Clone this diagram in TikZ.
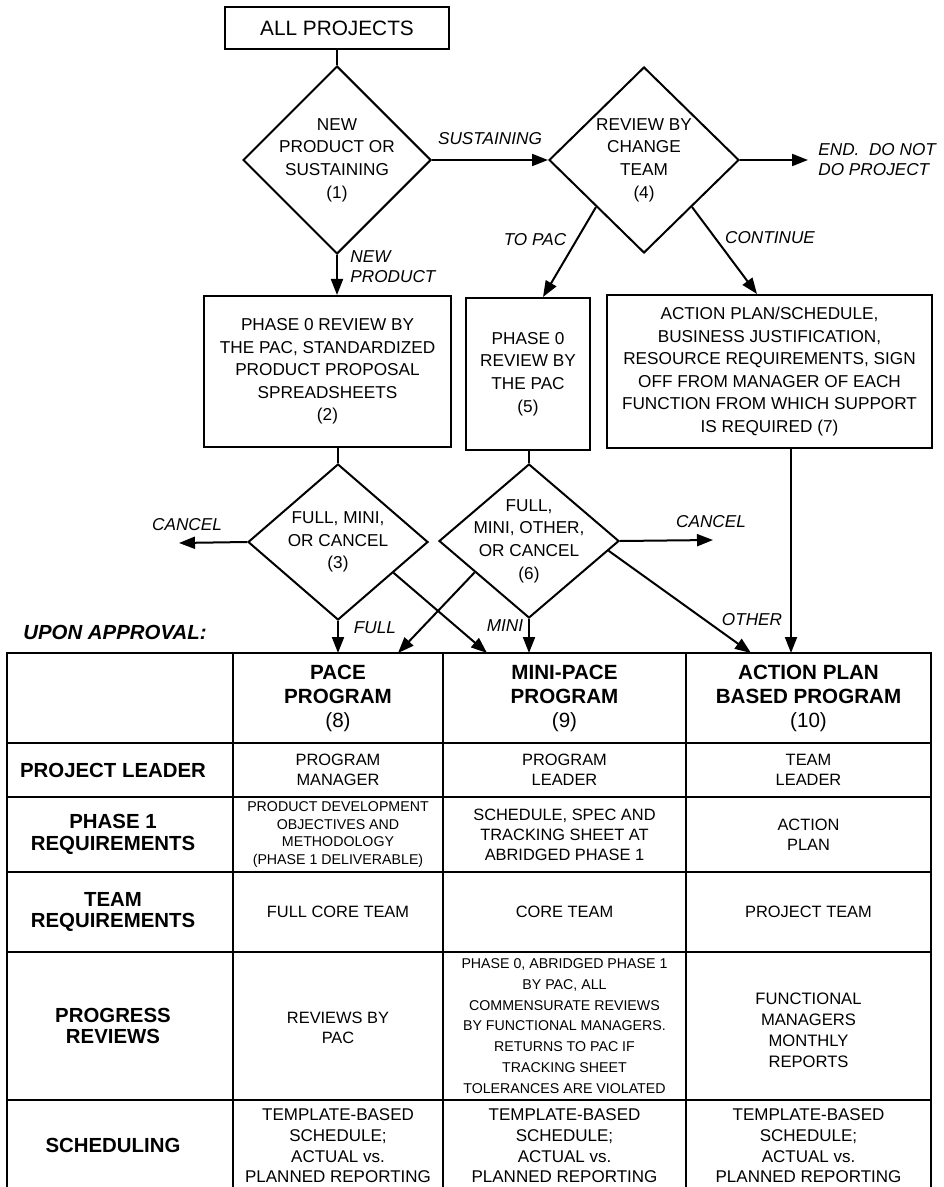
\documentclass[tikz,border=0pt]{standalone}
\usepackage{fontspec}
\setmainfont{Liberation Sans}
\usetikzlibrary{shapes.geometric,arrows.meta}

\tikzset{
  box/.style={draw, rectangle, line width=1pt, align=center, inner sep=0pt, font=\fontsize{8.6}{11.3}\selectfont},
  decision/.style={draw, diamond, line width=1pt, align=center, inner sep=-6pt, font=\fontsize{8.6}{11.3}\selectfont},
  lbl/.style={inner sep=0pt, align=left, font=\fontsize{8.6}{10}\selectfont\itshape},
  arr/.style={line width=1pt, -{Triangle[length=8pt,width=6pt]}},
  grid/.style={line width=0.9pt},
  cell/.style={inner sep=0pt, align=center, font=\fontsize{8.2}{10}\selectfont},
  schedcell/.style={inner sep=0pt, align=center, font=\fontsize{8.5}{10.3}\selectfont},
  smallcell/.style={inner sep=0pt, align=center, font=\fontsize{7.1}{8.7}\selectfont},
  rowhead/.style={inner sep=0pt, align=center, font=\fontsize{10.2}{10.9}\selectfont\bfseries},
  colhead/.style={inner sep=0pt, align=center, font=\fontsize{10.3}{12}\selectfont},
}

\begin{document}
\begin{tikzpicture}[x=0.5pt, y=-0.5pt]
\useasboundingbox (0,0) rectangle (943,1187);

% decisions and boxes
\node[box, minimum width=112pt, minimum height=21pt, font=\fontsize{10.4}{12}\selectfont] (all) at (337,28) {ALL PROJECTS};
\node[decision, minimum width=94pt, minimum height=94pt] (d1) at (337,160) {NEW\\PRODUCT OR\\SUSTAINING\\(1)};
\node[decision, minimum width=95pt, minimum height=93pt] (d4) at (644,160) {REVIEW BY\\CHANGE\\TEAM\\(4)};
\node[box, minimum width=123.5pt, minimum height=75.5pt] (b2) at (327.5,371.5) {PHASE 0 REVIEW BY\\THE PAC, STANDARDIZED\\PRODUCT PROPOSAL\\SPREADSHEETS\\(2)};
\node[box, minimum width=62pt, minimum height=76pt] (b5) at (528,374) {PHASE 0\\REVIEW BY\\THE PAC\\(5)};
\node[box, minimum width=162.5pt, minimum height=76.5pt] (b7) at (769.5,371.5) {ACTION PLAN/SCHEDULE,\\BUSINESS JUSTIFICATION,\\RESOURCE REQUIREMENTS, SIGN\\OFF FROM MANAGER OF EACH\\FUNCTION FROM WHICH SUPPORT\\IS REQUIRED (7)};
\node[decision, minimum width=90pt, minimum height=78pt] (d3) at (338,542) {FULL, MINI,\\OR CANCEL\\(3)};
\node[decision, minimum width=90pt, minimum height=77pt] (d6) at (529,541) {FULL,\\MINI, OTHER,\\OR CANCEL\\(6)};

% branch labels
\node[lbl] (lsus) at (490,139) {SUSTAINING};
\node[lbl, anchor=west] (lnew) at (350,267) {NEW\\PRODUCT};
\node[lbl] (ltopac) at (535,240) {TO PAC};
\node[lbl] (lcont) at (770,238) {CONTINUE};
\node[lbl, anchor=west, inner sep=5pt] (lend) at (808,160) {END.\ \ DO NOT\\DO PROJECT};
\node[lbl] (lcan3) at (187,525) {CANCEL};
\node[lbl] (lcan6) at (711,522) {CANCEL};
\node[lbl] (lfull) at (375,628) {FULL};
\node[lbl] (lmini) at (505,626) {MINI};
\node[lbl] (lother) at (752,620) {OTHER};
\node[inner sep=0pt, anchor=west, font=\fontsize{10.2}{12}\selectfont\bfseries\itshape] (appr) at (23,632) {UPON APPROVAL:};

% free ends
\coordinate (top) at (0,653);
\coordinate (cancel3) at (179,543);
\coordinate (cancel6) at (713,540);
\coordinate (pace in) at (398,653);
\coordinate (mini in) at (487,653);
\coordinate (other in) at (751,653);
\coordinate (apb in) at (791,653);

\draw[line width=1pt] (all) -- (d1);
\draw[arr] (d1.south) -- (d1.south |- b2.north);
\draw[arr] (d1.east) -- (d4.west);
\draw[arr] (d4.east) -- (lend.west);
\draw[arr] (d4.south west) -- (b5.north -| 543,0);
\draw[arr] (d4.south east) -- (b7.north -| 757,0);
\draw[line width=1pt] (d3.north |- b2.south) -- (d3.north);
\draw[line width=1pt] (d6.north |- b5.south) -- (d6.north);
\draw[arr] (d3.west) -- (cancel3);
\draw[arr] (d6.east) -- (cancel6);
\draw[arr] (d3.south) -- (d3.south |- top);
\draw[arr] (d3.-29) -- (mini in);
\draw[arr] (d6.210) -- (pace in);
\draw[arr] (d6.south) -- (d6.south |- top);
\draw[arr] (d6.-7) -- (other in);
\draw[arr] (apb in |- b7.south) -- (apb in);

% table grid
\draw[grid] (7,1187) -- (7,653) -- (931,653) -- (931,1187);
\foreach \x in {233,443,686}
  \draw[grid] (\x,653) -- (\x,1187);
\foreach \y in {743,797,872,952,1100}
  \draw[grid] (7,\y) -- (931,\y);

% column heads
\node[colhead] (pace) at (338,698) {\textbf{PACE}\\\textbf{PROGRAM}\\(8)};
\node[colhead] (mini) at (564.5,698) {\textbf{MINI-PACE}\\\textbf{PROGRAM}\\(9)};
\node[colhead] (apb) at (808.5,698) {\textbf{ACTION PLAN}\\\textbf{BASED PROGRAM}\\(10)};

% row heads
\node[rowhead] (rlead) at (113,770) {PROJECT LEADER};
\node[rowhead] (rphase) at (113,834.5) {PHASE 1\\REQUIREMENTS};
\node[rowhead] (rteam) at (113,912) {TEAM\\REQUIREMENTS};
\node[rowhead] (rprog) at (113,1026) {PROGRESS\\REVIEWS};
\node[rowhead] (rsched) at (113,1145) {SCHEDULING};

% cells
\node[cell] (lead8) at (338,770) {PROGRAM\\MANAGER};
\node[cell] (lead9) at (564.5,770) {PROGRAM\\LEADER};
\node[cell] (lead10) at (808.5,770) {TEAM\\LEADER};
\node[smallcell] (phase8) at (338,834.5) {PRODUCT DEVELOPMENT\\OBJECTIVES AND\\METHODOLOGY\\(PHASE 1 DELIVERABLE)};
\node[cell] (phase9) at (564.5,834.5) {SCHEDULE, SPEC AND\\TRACKING SHEET AT\\ABRIDGED PHASE 1};
\node[cell] (phase10) at (808.5,834.5) {ACTION\\PLAN};
\node[cell] (team8) at (338,912) {FULL CORE TEAM};
\node[cell] (team9) at (564.5,912) {CORE TEAM};
\node[cell] (team10) at (808.5,912) {PROJECT TEAM};
\node[cell] (prog8) at (338,1028) {REVIEWS BY\\PAC};
\node[smallcell, font=\fontsize{7.1}{10.4}\selectfont] (prog9) at (564.5,1026) {PHASE 0, ABRIDGED PHASE 1\\BY PAC, ALL\\COMMENSURATE REVIEWS\\BY FUNCTIONAL MANAGERS.\\RETURNS TO PAC IF\\TRACKING SHEET\\TOLERANCES ARE VIOLATED};
\node[cell, font=\fontsize{8.3}{10.5}\selectfont] (prog10) at (808.5,1030) {FUNCTIONAL\\MANAGERS\\MONTHLY\\REPORTS};
\node[schedcell] (sched8) at (338,1146) {TEMPLATE-BASED\\SCHEDULE;\\ACTUAL vs.\\PLANNED REPORTING};
\node[schedcell] (sched9) at (564.5,1146) {TEMPLATE-BASED\\SCHEDULE;\\ACTUAL vs.\\PLANNED REPORTING};
\node[schedcell] (sched10) at (808.5,1146) {TEMPLATE-BASED\\SCHEDULE;\\ACTUAL vs.\\PLANNED REPORTING};
\end{tikzpicture}
\end{document}
